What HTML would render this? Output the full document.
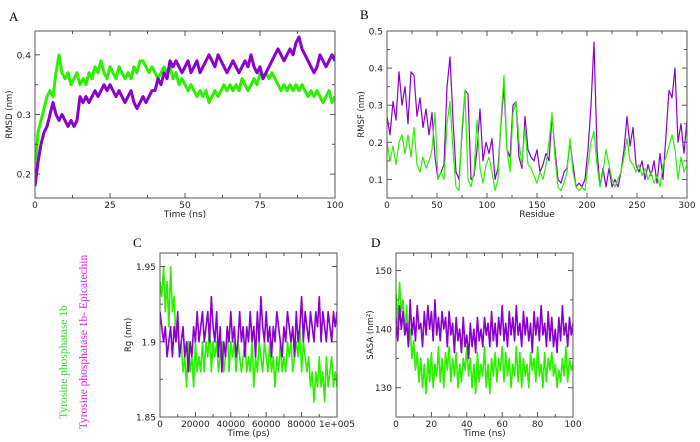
<!DOCTYPE html>
<html><head><meta charset="utf-8">
<style>
body{margin:0;background:#fff;width:700px;height:442px;overflow:hidden}
svg{display:block}
text{font-family:"DejaVu Sans","Liberation Sans",sans-serif}
.pl{font-family:"Liberation Serif",serif;font-size:13px}
</style></head><body>
<svg id="fig" width="700" height="442" viewBox="0 0 700 442">
<text class="pl" x="9" y="21">A</text>
<text class="pl" x="360" y="19">B</text>
<text class="pl" x="133" y="247">C</text>
<text class="pl" x="371" y="247">D</text>
<text transform="translate(67,362) rotate(-90)" text-anchor="middle" fill="#33dd22" style="font-family:'Liberation Serif',serif;font-size:11.5px">Tyrosine phosphatase 1b</text>
<text transform="translate(87,342) rotate(-90)" text-anchor="middle" fill="#dd22dd" style="font-family:'Liberation Serif',serif;font-size:11.5px">Tyrosine phosphatase 1b- Epicatechin</text>
</svg>
<script>
// Panel A: RMSD (nm) vs time (ns), one point per ns
const rmsdGreen=[0.20,0.27,0.29,0.31,0.33,0.34,0.33,0.37,0.40,0.37,0.36,0.37,0.35,0.36,0.37,0.35,0.36,0.35,0.37,0.36,0.38,0.37,0.39,0.37,0.36,0.38,0.37,0.36,0.38,0.37,0.36,0.37,0.36,0.38,0.37,0.39,0.39,0.38,0.37,0.38,0.37,0.36,0.37,0.38,0.37,0.38,0.36,0.37,0.35,0.36,0.35,0.34,0.35,0.34,0.33,0.34,0.33,0.34,0.32,0.33,0.34,0.33,0.34,0.35,0.34,0.35,0.34,0.35,0.34,0.36,0.35,0.34,0.35,0.36,0.35,0.37,0.36,0.37,0.36,0.37,0.36,0.35,0.34,0.35,0.34,0.35,0.34,0.35,0.34,0.35,0.34,0.33,0.34,0.33,0.34,0.33,0.32,0.33,0.34,0.32,0.33];
const rmsdPurple=[0.18,0.22,0.25,0.27,0.28,0.30,0.32,0.30,0.29,0.30,0.29,0.28,0.29,0.28,0.29,0.33,0.32,0.33,0.32,0.33,0.34,0.33,0.34,0.35,0.34,0.35,0.34,0.33,0.34,0.33,0.32,0.33,0.34,0.32,0.31,0.32,0.33,0.32,0.33,0.34,0.34,0.36,0.35,0.37,0.36,0.39,0.38,0.39,0.38,0.37,0.38,0.39,0.37,0.38,0.39,0.37,0.38,0.39,0.40,0.39,0.38,0.40,0.39,0.38,0.37,0.38,0.39,0.38,0.37,0.38,0.39,0.38,0.40,0.38,0.37,0.38,0.36,0.37,0.38,0.39,0.40,0.41,0.40,0.39,0.40,0.41,0.40,0.42,0.43,0.41,0.40,0.39,0.38,0.37,0.38,0.40,0.39,0.38,0.39,0.40,0.39];
// Panel B: RMSF (nm) vs residue, every 3 residues
const rmsfPurple=[0.27,0.22,0.31,0.26,0.39,0.30,0.35,0.25,0.39,0.38,0.27,0.32,0.24,0.29,0.22,0.28,0.16,0.10,0.12,0.14,0.35,0.43,0.26,0.12,0.10,0.22,0.34,0.33,0.10,0.11,0.18,0.29,0.15,0.20,0.17,0.21,0.10,0.13,0.25,0.35,0.18,0.16,0.30,0.31,0.16,0.13,0.27,0.18,0.16,0.15,0.18,0.12,0.14,0.17,0.15,0.27,0.18,0.10,0.09,0.12,0.13,0.20,0.14,0.08,0.09,0.08,0.10,0.18,0.30,0.47,0.18,0.08,0.13,0.08,0.13,0.08,0.10,0.08,0.12,0.18,0.27,0.19,0.24,0.14,0.12,0.15,0.10,0.14,0.11,0.15,0.09,0.17,0.10,0.22,0.34,0.32,0.40,0.20,0.25,0.17,0.26];
const rmsfGreen=[0.20,0.15,0.19,0.14,0.20,0.22,0.17,0.22,0.16,0.24,0.14,0.12,0.16,0.13,0.15,0.18,0.28,0.10,0.12,0.10,0.25,0.31,0.18,0.08,0.07,0.24,0.34,0.10,0.08,0.12,0.26,0.13,0.09,0.14,0.16,0.12,0.07,0.10,0.26,0.38,0.18,0.12,0.28,0.31,0.20,0.14,0.24,0.14,0.13,0.11,0.09,0.12,0.10,0.14,0.20,0.28,0.16,0.08,0.07,0.09,0.12,0.21,0.12,0.08,0.07,0.08,0.07,0.14,0.20,0.23,0.14,0.08,0.12,0.18,0.14,0.10,0.08,0.10,0.12,0.16,0.21,0.15,0.14,0.12,0.14,0.11,0.13,0.10,0.12,0.09,0.11,0.08,0.14,0.16,0.19,0.22,0.18,0.10,0.16,0.12,0.14];
// Panel C: Rg (nm) vs time (ps), every 1000 ps
const rgGreen=[1.94,1.93,1.95,1.92,1.94,1.91,1.95,1.92,1.93,1.90,1.91,1.89,1.90,1.88,1.89,1.87,1.90,1.88,1.89,1.87,1.90,1.88,1.89,1.88,1.90,1.88,1.90,1.89,1.91,1.88,1.90,1.89,1.90,1.88,1.89,1.90,1.88,1.89,1.91,1.88,1.90,1.89,1.90,1.88,1.90,1.89,1.88,1.89,1.90,1.88,1.89,1.88,1.90,1.87,1.89,1.88,1.90,1.89,1.88,1.90,1.89,1.88,1.90,1.88,1.89,1.87,1.89,1.88,1.90,1.88,1.89,1.88,1.90,1.89,1.90,1.88,1.89,1.90,1.89,1.91,1.88,1.90,1.89,1.88,1.89,1.87,1.88,1.86,1.88,1.87,1.89,1.87,1.88,1.86,1.89,1.87,1.88,1.89,1.87,1.88,1.87];
const rgPurple=[1.92,1.91,1.90,1.91,1.89,1.90,1.91,1.89,1.91,1.90,1.92,1.89,1.90,1.91,1.89,1.90,1.88,1.90,1.89,1.91,1.90,1.92,1.90,1.91,1.92,1.90,1.91,1.92,1.90,1.93,1.91,1.90,1.92,1.89,1.91,1.88,1.90,1.89,1.91,1.90,1.92,1.90,1.91,1.89,1.90,1.92,1.90,1.91,1.89,1.91,1.90,1.92,1.90,1.91,1.89,1.92,1.90,1.93,1.91,1.90,1.92,1.90,1.91,1.89,1.91,1.90,1.92,1.91,1.90,1.89,1.91,1.90,1.92,1.91,1.90,1.91,1.89,1.92,1.90,1.91,1.93,1.90,1.92,1.91,1.90,1.92,1.91,1.90,1.92,1.91,1.93,1.90,1.92,1.91,1.90,1.92,1.91,1.90,1.92,1.91,1.92];
// Panel D: SASA (nm^2) vs time (ns), one point per ns
const sasaGreen=[146,141,148,143,145,139,144,137,140,135,138,133,136,131,135,130,134,129,135,131,136,130,134,132,137,131,135,130,136,133,137,131,135,132,136,130,134,131,135,133,137,132,135,130,134,129,136,131,134,132,137,130,134,129,135,132,136,131,135,133,137,131,136,132,135,130,134,132,137,131,136,130,135,132,134,130,136,133,135,131,137,132,134,130,136,131,135,133,136,132,134,130,133,131,135,132,137,131,135,133,134];
const sasaPurple=[142,138,144,140,143,139,141,137,145,139,142,138,144,140,141,137,143,139,144,140,143,138,145,139,142,138,143,140,142,137,143,139,141,136,142,138,140,136,142,137,139,135,141,137,140,136,142,138,140,137,142,139,141,137,143,138,141,137,142,139,144,138,141,137,143,139,142,138,144,139,141,137,143,139,142,138,141,136,143,139,142,138,144,139,141,137,143,138,142,137,140,136,142,138,144,139,141,137,142,139,141];
// tick labels
const ticksAx=[0,25,50,75,100], ticksAy=[0.2,0.3,0.4];
const ticksBx=[0,50,100,150,200,250,300], ticksBy=[0.1,0.2,0.3,0.4,0.5];
const ticksCx=[0,20000,40000,60000,80000,100000], labelsCx=["0","20000","40000","60000","80000","1e+005"], ticksCy=[1.85,1.9,1.95];
const ticksDx=[0,20,40,60,80,100], ticksDy=[130,140,150];

const NS="http://www.w3.org/2000/svg";
const fig=document.getElementById('fig');
const G="#2cf000", P="#8a00cc";
function mk(tag,attrs,parent){const e=document.createElementNS(NS,tag);for(const k in attrs)e.setAttribute(k,attrs[k]);(parent||fig).appendChild(e);return e;}

function panel(c){
  const g=mk('g',{});
  
  
  const sx=v=>c.L+(v-c.x0)/(c.x1-c.x0)*(c.R-c.L);
  const sy=v=>c.B-(v-c.y0)/(c.y1-c.y0)*(c.B-c.T);
  const clipId='clip-'+c.name;
  const cp=mk('clipPath',{id:clipId},g);
  mk('rect',{x:c.L,y:c.T,width:c.R-c.L,height:c.B-c.T},cp);
  c.series.forEach(s=>{
    const n=s.vals.length;
    const pts=s.vals.map((v,i)=>sx(c.x0+i*(c.x1-c.x0)/(n-1)).toFixed(2)+','+sy(v).toFixed(2)).join(' ');
    const pl=mk('polyline',{points:pts,fill:'none',stroke:s.color,'stroke-width':c.sw,'stroke-linejoin':'round','clip-path':'url(#'+clipId+')'},g);
    
    
  });
  const fr=mk('rect',{x:c.L,y:c.T,width:c.R-c.L,height:c.B-c.T,fill:'none',stroke:'#555','stroke-width':1},g);
  
  
  c.xt.forEach((v,i)=>{
    const x=sx(v);
    mk('line',{x1:x,y1:c.B,x2:x,y2:c.B-5,stroke:'#555'},g);
    mk('line',{x1:x,y1:c.T,x2:x,y2:c.T+5,stroke:'#555'},g);
    if(i<c.xt.length-1){const xm=sx(v+(c.xt[1]-c.xt[0])/2);
      mk('line',{x1:xm,y1:c.B,x2:xm,y2:c.B-3,stroke:'#555'},g);
      mk('line',{x1:xm,y1:c.T,x2:xm,y2:c.T+3,stroke:'#555'},g);}
    const t=mk('text',{x:x,y:c.B+10,'text-anchor':'middle','font-size':9,fill:'#222'},g);
    t.textContent=c.xl?c.xl[i]:String(v);
    
    
  });
  c.yt.forEach((v,i)=>{
    const y=sy(v);
    mk('line',{x1:c.L,y1:y,x2:c.L+5,y2:y,stroke:'#555'},g);
    mk('line',{x1:c.R,y1:y,x2:c.R-5,y2:y,stroke:'#555'},g);
    const st=c.yt[1]-c.yt[0];
    [v-st/2,v+st/2].forEach(m=>{if(m>c.y0&&m<c.y1&&(m>v||i==0)){const ym=sy(m);
      mk('line',{x1:c.L,y1:ym,x2:c.L+3,y2:ym,stroke:'#555'},g);
      mk('line',{x1:c.R,y1:ym,x2:c.R-3,y2:ym,stroke:'#555'},g);}});
    const t=mk('text',{x:c.L-4,y:y+3.5,'text-anchor':'end','font-size':9,fill:'#222'},g);
    t.textContent=String(v);
    
    
  });
  const xt=mk('text',{x:(c.L+c.R)/2,y:c.B+19,'text-anchor':'middle','font-size':9,fill:'#222'},g);
  xt.textContent=c.xlabel;
  
  
  const yt=mk('text',{transform:'translate('+c.yx+','+(c.T+c.B)/2+') rotate(-90)','text-anchor':'middle','font-size':8.5,fill:'#222'},g);
  yt.textContent=c.ylabel;
  
  
}

panel({name:'rmsd-chart',L:35,R:335,T:31,B:198,x0:0,x1:100,y0:0.16,y1:0.44,sw:3,
  xt:ticksAx,yt:ticksAy,xlabel:'Time (ns)',ylabel:'RMSD (nm)',yx:12,
  series:[{name:'rmsd-tp1b-line',vals:rmsdGreen,color:G},{name:'rmsd-tp1b-epicatechin-line',vals:rmsdPurple,color:P}]});
panel({name:'rmsf-chart',L:387,R:687,T:31,B:198,x0:0,x1:300,y0:0.05,y1:0.5,sw:1.2,
  xt:ticksBx,yt:ticksBy,xlabel:'Residue',ylabel:'RMSF (nm)',yx:364,
  series:[{name:'rmsf-tp1b-epicatechin-line',vals:rmsfPurple,color:P},{name:'rmsf-tp1b-line',vals:rmsfGreen,color:G}]});
panel({name:'rg-chart',L:160,R:337,T:253,B:417,x0:0,x1:100000,y0:1.85,y1:1.959,sw:1.6,
  xt:ticksCx,xl:labelsCx,yt:ticksCy,xlabel:'Time (ps)',ylabel:'Rg (nm)',yx:131,
  series:[{name:'rg-tp1b-line',vals:rgGreen,color:G},{name:'rg-tp1b-epicatechin-line',vals:rgPurple,color:P}]});
panel({name:'sasa-chart',L:396,R:573,T:253,B:417,x0:0,x1:100,y0:125,y1:153,sw:1.6,
  xt:ticksDx,yt:ticksDy,xlabel:'Time (ns)',ylabel:'SASA (nm\u00B2)',yx:373,
  series:[{name:'sasa-tp1b-line',vals:sasaGreen,color:G},{name:'sasa-tp1b-epicatechin-line',vals:sasaPurple,color:P}]});
</script>
</body></html>
